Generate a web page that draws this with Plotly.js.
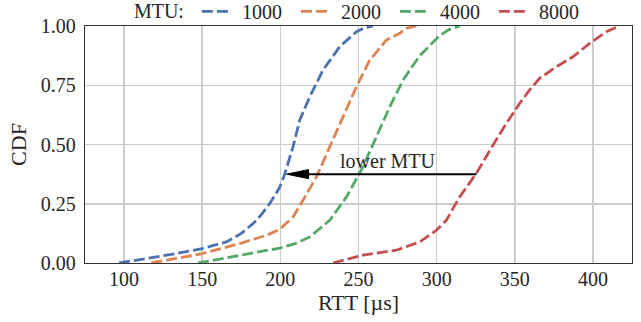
<!DOCTYPE html>
<html>
<head>
<meta charset="utf-8">
<script src="https://cdn.plot.ly/plotly-3.0.1.min.js"></script>
<style>html,body{margin:0;padding:0;background:#fff;}</style>
</head>
<body>
<div id="chart" style="width:641px;height:322px;"></div>
<script>
// ---- data ----
const mtuLabels = ["1000", "2000", "4000", "8000"];
const colors = ["#4C72B0", "#DD8452", "#55A868", "#C44E52"];

const rtt1000 = [96.8, 114.3, 130, 150.1, 165.5, 175, 182.5, 188, 193.2, 197, 199.6, 202.8, 205.5, 208.1, 212.4, 218.8, 227.3, 238, 248.7, 254, 259.3];
const cdf1000 = [0, 0.018, 0.036, 0.061, 0.089, 0.125, 0.166, 0.205, 0.251, 0.29, 0.32, 0.375, 0.43, 0.49, 0.603, 0.701, 0.814, 0.913, 0.976, 0.993, 1.0];

const rtt2000 = [117.5, 135, 150.1, 174, 191.1, 199.6, 208.1, 214.5, 223.1, 231.6, 240.1, 248.7, 257.2, 267.9, 276.4, 280.6, 287];
const cdf2000 = [0, 0.022, 0.040, 0.082, 0.117, 0.142, 0.194, 0.265, 0.363, 0.49, 0.617, 0.744, 0.856, 0.941, 0.969, 0.99, 1.0];

const rtt4000 = [147.3, 167.6, 185, 199.6, 210, 218.8, 231.6, 242.3, 252.9, 261.5, 270, 278.5, 289.2, 302, 308, 314.7];
const cdf4000 = [0, 0.025, 0.045, 0.063, 0.083, 0.11, 0.18, 0.279, 0.406, 0.532, 0.659, 0.772, 0.875, 0.96, 0.985, 1.0];

const rtt8000 = [233.7, 252.9, 274.2, 289.2, 299.8, 306.2, 314.7, 325.4, 336, 344.6, 353.1, 359.5, 365.9, 376.6, 387.2, 397.9, 408.6, 417.1];
const cdf8000 = [0, 0.033, 0.054, 0.089, 0.138, 0.18, 0.279, 0.378, 0.497, 0.589, 0.673, 0.73, 0.779, 0.828, 0.87, 0.927, 0.976, 1.0];

const xTicks = [100, 150, 200, 250, 300, 350, 400];
const yTicks = [0, 0.25, 0.5, 0.75, 1.0];

// annotation: "lower MTU" arrow
const arrowTailX = 325.5, arrowTipX = 204, arrowY = 0.375;
const arrowText = "lower MTU", arrowTextX = 269, arrowTextY = 0.43;

// ---- build ----
const xs = [rtt1000, rtt2000, rtt4000, rtt8000];
const ys = [cdf1000, cdf2000, cdf4000, cdf8000];
const FONT = "Liberation Serif, Times New Roman, serif";
const TXT = "#262626";

const traces = mtuLabels.map((name, i) => ({
  x: xs[i], y: ys[i], type: "scatter", mode: "lines",
  name: "\u00a0" + name,
  line: {color: colors[i], width: 2.8, dash: "11px,4px"},
  hoverinfo: "skip"
}));

// arrow head size in data units
const headLenX = 14, headHalfY = 0.019;

const layout = {
  width: 641, height: 322,
  margin: {l: 85, r: 9, t: 26, b: 59, autoexpand: false},
  paper_bgcolor: "#fff", plot_bgcolor: "#fff",
  font: {family: FONT, size: 20, color: TXT},
  showlegend: true,
  legend: {
    orientation: "h", xref: "paper", yref: "paper",
    x: 0.0857, xanchor: "left", y: 1.062, yanchor: "middle",
    bgcolor: "rgba(0,0,0,0)", borderwidth: 0,
    font: {family: FONT, size: 20, color: TXT},
    title: {text: "MTU:\u00a0", side: "left", font: {family: FONT, size: 20, color: TXT}},
    itemwidth: 30,
    entrywidth: 54, entrywidthmode: "pixels"
  },
  xaxis: {
    range: [75, 425], tickvals: xTicks, ticktext: xTicks.map(String),
    showgrid: true, gridcolor: "#cccccc", gridwidth: 1.5, zeroline: false,
    showline: true, mirror: true, linecolor: "#333333", linewidth: 1.3,
    ticks: "outside", ticklen: 1, tickcolor: "rgba(0,0,0,0)", ticklabelstandoff: -3,
    tickfont: {family: FONT, size: 20, color: TXT},
    title: {text: "RTT [µs]", font: {family: FONT, size: 22, color: TXT}, standoff: 3}
  },
  yaxis: {
    range: [0, 1], tickvals: yTicks, ticktext: yTicks.map(v => v.toFixed(2)),
    showgrid: true, gridcolor: "#cccccc", gridwidth: 1.5, zeroline: false,
    showline: true, mirror: true, linecolor: "#333333", linewidth: 1.3,
    ticks: "outside", ticklen: 4, tickcolor: "rgba(0,0,0,0)",
    tickfont: {family: FONT, size: 20, color: TXT},
    title: {text: "CDF", font: {family: FONT, size: 22, color: TXT}, standoff: 8}
  },
  shapes: [
    {type: "line", xref: "x", yref: "y", x0: arrowTailX, x1: arrowTipX + headLenX * 0.5, y0: arrowY, y1: arrowY,
     line: {color: "#000", width: 2}},
    {type: "path", xref: "x", yref: "y",
     path: `M ${arrowTipX},${arrowY} L ${arrowTipX + headLenX},${arrowY + headHalfY} L ${arrowTipX + headLenX},${arrowY - headHalfY} Z`,
     fillcolor: "#000", line: {color: "#000", width: 1}}
  ],
  annotations: [
    {x: arrowTextX, y: arrowTextY, xref: "x", yref: "y", text: arrowText, showarrow: false,
     font: {family: FONT, size: 20, color: TXT}}
  ]
};

Plotly.newPlot("chart", traces, layout, {staticPlot: true, displayModeBar: false});
</script>
</body>
</html>
